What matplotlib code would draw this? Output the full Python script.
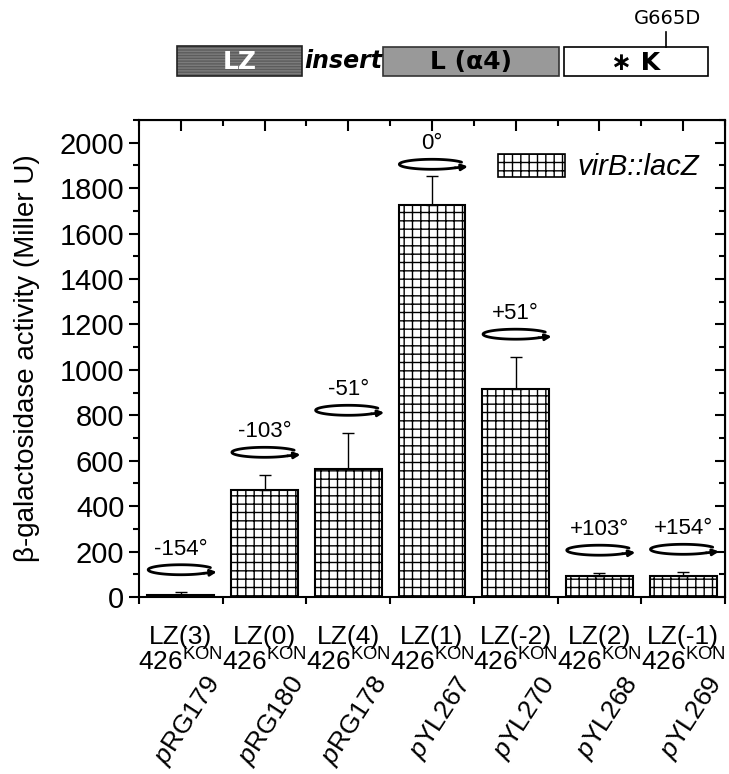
import numpy as np
import matplotlib
matplotlib.use('Agg')
import matplotlib.pyplot as plt
from matplotlib.patches import Rectangle, Patch

plt.rcParams['font.family'] = ['Liberation Sans', 'DejaVu Sans']
plt.rcParams['mathtext.fontset'] = 'custom'
plt.rcParams['mathtext.rm'] = 'Liberation Sans'
plt.rcParams['mathtext.it'] = 'Liberation Sans:italic'
plt.rcParams['mathtext.bf'] = 'Liberation Sans:bold'
plt.rcParams['hatch.linewidth'] = 1.0

# data
constructs = ['LZ(3)', 'LZ(0)', 'LZ(4)', 'LZ(1)', 'LZ(-2)', 'LZ(2)', 'LZ(-1)']
plasmids = ['RG179', 'RG180', 'RG178', 'YL267', 'YL270', 'YL268', 'YL269']
activity = [10, 471, 564, 1727, 916, 92, 92]
errors = [10, 66, 158, 128, 141, 14, 18]
angles = ['-154°', '-103°', '-51°', '0°', '+51°', '+103°', '+154°']

W, H = 729, 774
fig = plt.figure(figsize=(W / 100, H / 100), dpi=100)
ax = fig.add_axes([139 / W, 1 - 597 / H, (725 - 139) / W, (597 - 120) / H])

x = np.arange(1, len(activity) + 1)
ax.bar(x, activity, width=0.8, color='white', edgecolor='black',
       linewidth=1.5, hatch='++', zorder=2)
ax.errorbar(x, activity, yerr=[np.zeros(len(errors)), errors], fmt='none',
            ecolor='black', elinewidth=1, capsize=4, capthick=1, zorder=3)

ax.set_xlim(0.5, len(activity) + 0.5)
ax.set_ylim(0, 2100)

# rotation arrows with angle labels
a, b = 0.39, 22
for xi, top, lab in zip(x, np.array(activity) + np.array(errors), angles):
    yc = min(top + 100, 1905)
    t = np.radians(np.linspace(25, 315, 120))
    ax.plot(xi + a * np.cos(t), yc + b * np.sin(t), color='black', lw=2,
            zorder=4, solid_capstyle='round')
    t_end = np.radians(315)
    ax.annotate('', xy=(xi + a * 1.1, yc - b * 0.45),
                xytext=(xi + a * np.cos(t_end), yc + b * np.sin(t_end)),
                arrowprops=dict(arrowstyle='-|>', color='black', lw=2,
                                mutation_scale=9, shrinkA=0, shrinkB=0))
    ax.text(xi, yc + 45, lab, ha='center', va='bottom', fontsize=16)

# axes styling
for s in ax.spines.values():
    s.set_linewidth(1.5)
ax.set_yticks(np.arange(0, 2001, 200))
ax.set_yticks(np.arange(0, 2101, 100), minor=True)
ax.tick_params(axis='y', which='major', direction='out', length=7, width=1.5,
               labelsize=21)
ax.tick_params(axis='y', which='minor', direction='out', length=4, width=1.5)
ax.set_xticks(x)
ax.set_xticklabels([c + '\n426$^{\\mathrm{KON}}$' for c in constructs],
                   fontsize=19, linespacing=1.0)
ax.set_xticks(np.arange(0.5, len(activity) + 1, 1), minor=True)
ax.tick_params(axis='x', which='major', length=0, pad=20)
ax.tick_params(axis='x', which='minor', direction='out', length=5, width=1.5)
ax.set_ylabel('β-galactosidase activity (Miller U)', fontsize=20, labelpad=14)

# right/top inward ticks
axr = ax.secondary_yaxis('right')
axr.set_yticks(np.arange(0, 2001, 200))
axr.set_yticks(np.arange(0, 2101, 100), minor=True)
axr.tick_params(which='major', direction='in', length=7, width=1.5, labelright=False)
axr.tick_params(which='minor', direction='in', length=4, width=1.5)
axt = ax.secondary_xaxis('top')
axt.set_xticks(x)
axt.set_xticks(np.arange(0.5, len(activity) + 1, 1), minor=True)
axt.tick_params(which='major', direction='in', length=8, width=1.5, labeltop=False)
axt.tick_params(which='minor', direction='in', length=4, width=1.5)

# rotated plasmid names
for xi, p in zip(x, plasmids):
    ax.annotate('$\\mathit{p}$' + p, xy=(xi, 0), xycoords=('data', 'axes fraction'),
                xytext=(34, -82), textcoords='offset pixels', rotation=57,
                rotation_mode='anchor', ha='right', va='center', fontsize=19)

ax.legend(handles=[Patch(facecolor='white', edgecolor='black', hatch='++',
                         linewidth=1.2)],
          labels=['virB::lacZ'], loc='upper right', frameon=False,
          prop=dict(size=21, style='italic'), handlelength=2.3,
          handleheight=0.85, handletextpad=0.4,
          bbox_to_anchor=(1.0, 0.985))

# schematic on top, drawn in pixel coordinates
ov = fig.add_axes([0, 0, 1, 1], zorder=-1)
ov.set_xlim(0, W)
ov.set_ylim(H, 0)
ov.axis('off')
ov.add_patch(Rectangle((177, 46), 125, 30, facecolor='#5c5c5c', edgecolor='#7c7c7c',
                       hatch='------', lw=0))
ov.add_patch(Rectangle((177, 46), 125, 30, facecolor='none', edgecolor='#222222', lw=1.2))
ov.text(240, 62, 'LZ', color='white', fontweight='bold', fontsize=18,
        ha='center', va='center', family='DejaVu Sans')
ov.text(343, 61, 'insert', fontweight='bold', style='italic', fontsize=17,
        ha='center', va='center', family='DejaVu Sans')
ov.add_patch(Rectangle((383, 47), 176, 29, facecolor='#999999', edgecolor='#333333', lw=1.2))
ov.text(471, 62, 'L (α4)', fontweight='bold', fontsize=18,
        ha='center', va='center', family='DejaVu Sans')
ov.add_patch(Rectangle((564, 47), 144, 29, facecolor='white', edgecolor='black', lw=1.2))
ov.text(636, 63, '∗ K', fontweight='bold', fontsize=18,
        ha='center', va='center', family='DejaVu Sans')
ov.plot([666, 666], [32, 47], color='black', lw=1.2)
ov.text(668, 19, 'G665D', fontsize=14, ha='center', va='center', family='DejaVu Sans')

fig.savefig('out.png', dpi=100)
